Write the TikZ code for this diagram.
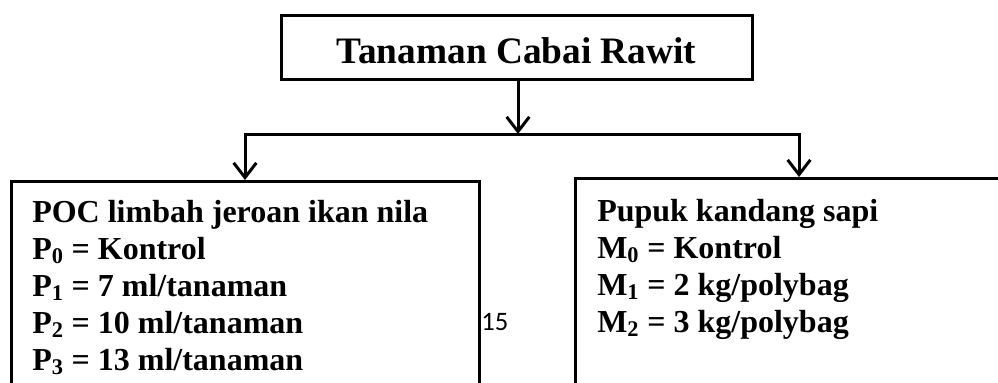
\documentclass[tikz,border=0pt]{standalone}
\usepackage{fontspec}
\setmainfont{Liberation Serif}
\newfontfamily\pagenumfont{Carlito}
\usetikzlibrary{arrows.meta}

\tikzset{
  box/.style={draw, line width=2.25pt, minimum width=#1, inner sep=0pt},
  link/.style={line width=2.25pt},
  arr/.style={link, -{Straight Barb[length=11pt, width=17pt, line width=2.25pt]}},
  % multi-line text: the base anchor sits on the last line
  body/.style={font=\bfseries\fontsize{24}{27.75}\selectfont, align=left, inner sep=0pt, anchor=base west},
}

\begin{document}
\begin{tikzpicture}[x=0.75pt, y=-0.75pt]
\useasboundingbox (0,0) rectangle (998,382);
\clip (0,0) rectangle (998,382);

% title box
\node[box=471*0.75pt, minimum height=64*0.75pt] (top) at (516.5,47) {};
\node[font=\bfseries\fontsize{28}{32}\selectfont, inner sep=0pt, anchor=base] (tt) at (516.5,63) {Tanaman Cabai Rawit};

% treatment boxes (they run past the page edge)
\node[box=468*0.75pt, minimum height=230*0.75pt, anchor=north] (lb) at (245,180) {};
\node[box=448*0.75pt, minimum height=230*0.75pt, anchor=north] (rb) at (799,177) {};

% connectors
\coordinate (j) at (518,134);
\coordinate (jl) at (lb.north |- j);
\coordinate (jr) at (rb.north |- j);
\draw[arr] (top.south -| j) -- (j);
\draw[link, line cap=rect] (jl) -- (jr);
\draw[arr] (jl) -- (lb.north);
\draw[arr] (jr) -- (rb.north);

% contents
\node[body] (lt) at (32,370) {POC limbah jeroan ikan nila\\
P\textsubscript{0} = Kontrol\\
P\textsubscript{1} = 7 ml/tanaman\\
P\textsubscript{2} = 10 ml/tanaman\\
P\textsubscript{3} = 13 ml/tanaman};

\node[body] (rt) at (597,332) {Pupuk kandang sapi\\
M\textsubscript{0} = Kontrol\\
M\textsubscript{1} = 2 kg/polybag\\
M\textsubscript{2} = 3 kg/polybag};

\node[font=\pagenumfont\fontsize{20}{24}\selectfont, inner sep=0pt, anchor=base west] (pg) at (481,330) {15};
\end{tikzpicture}
\end{document}
